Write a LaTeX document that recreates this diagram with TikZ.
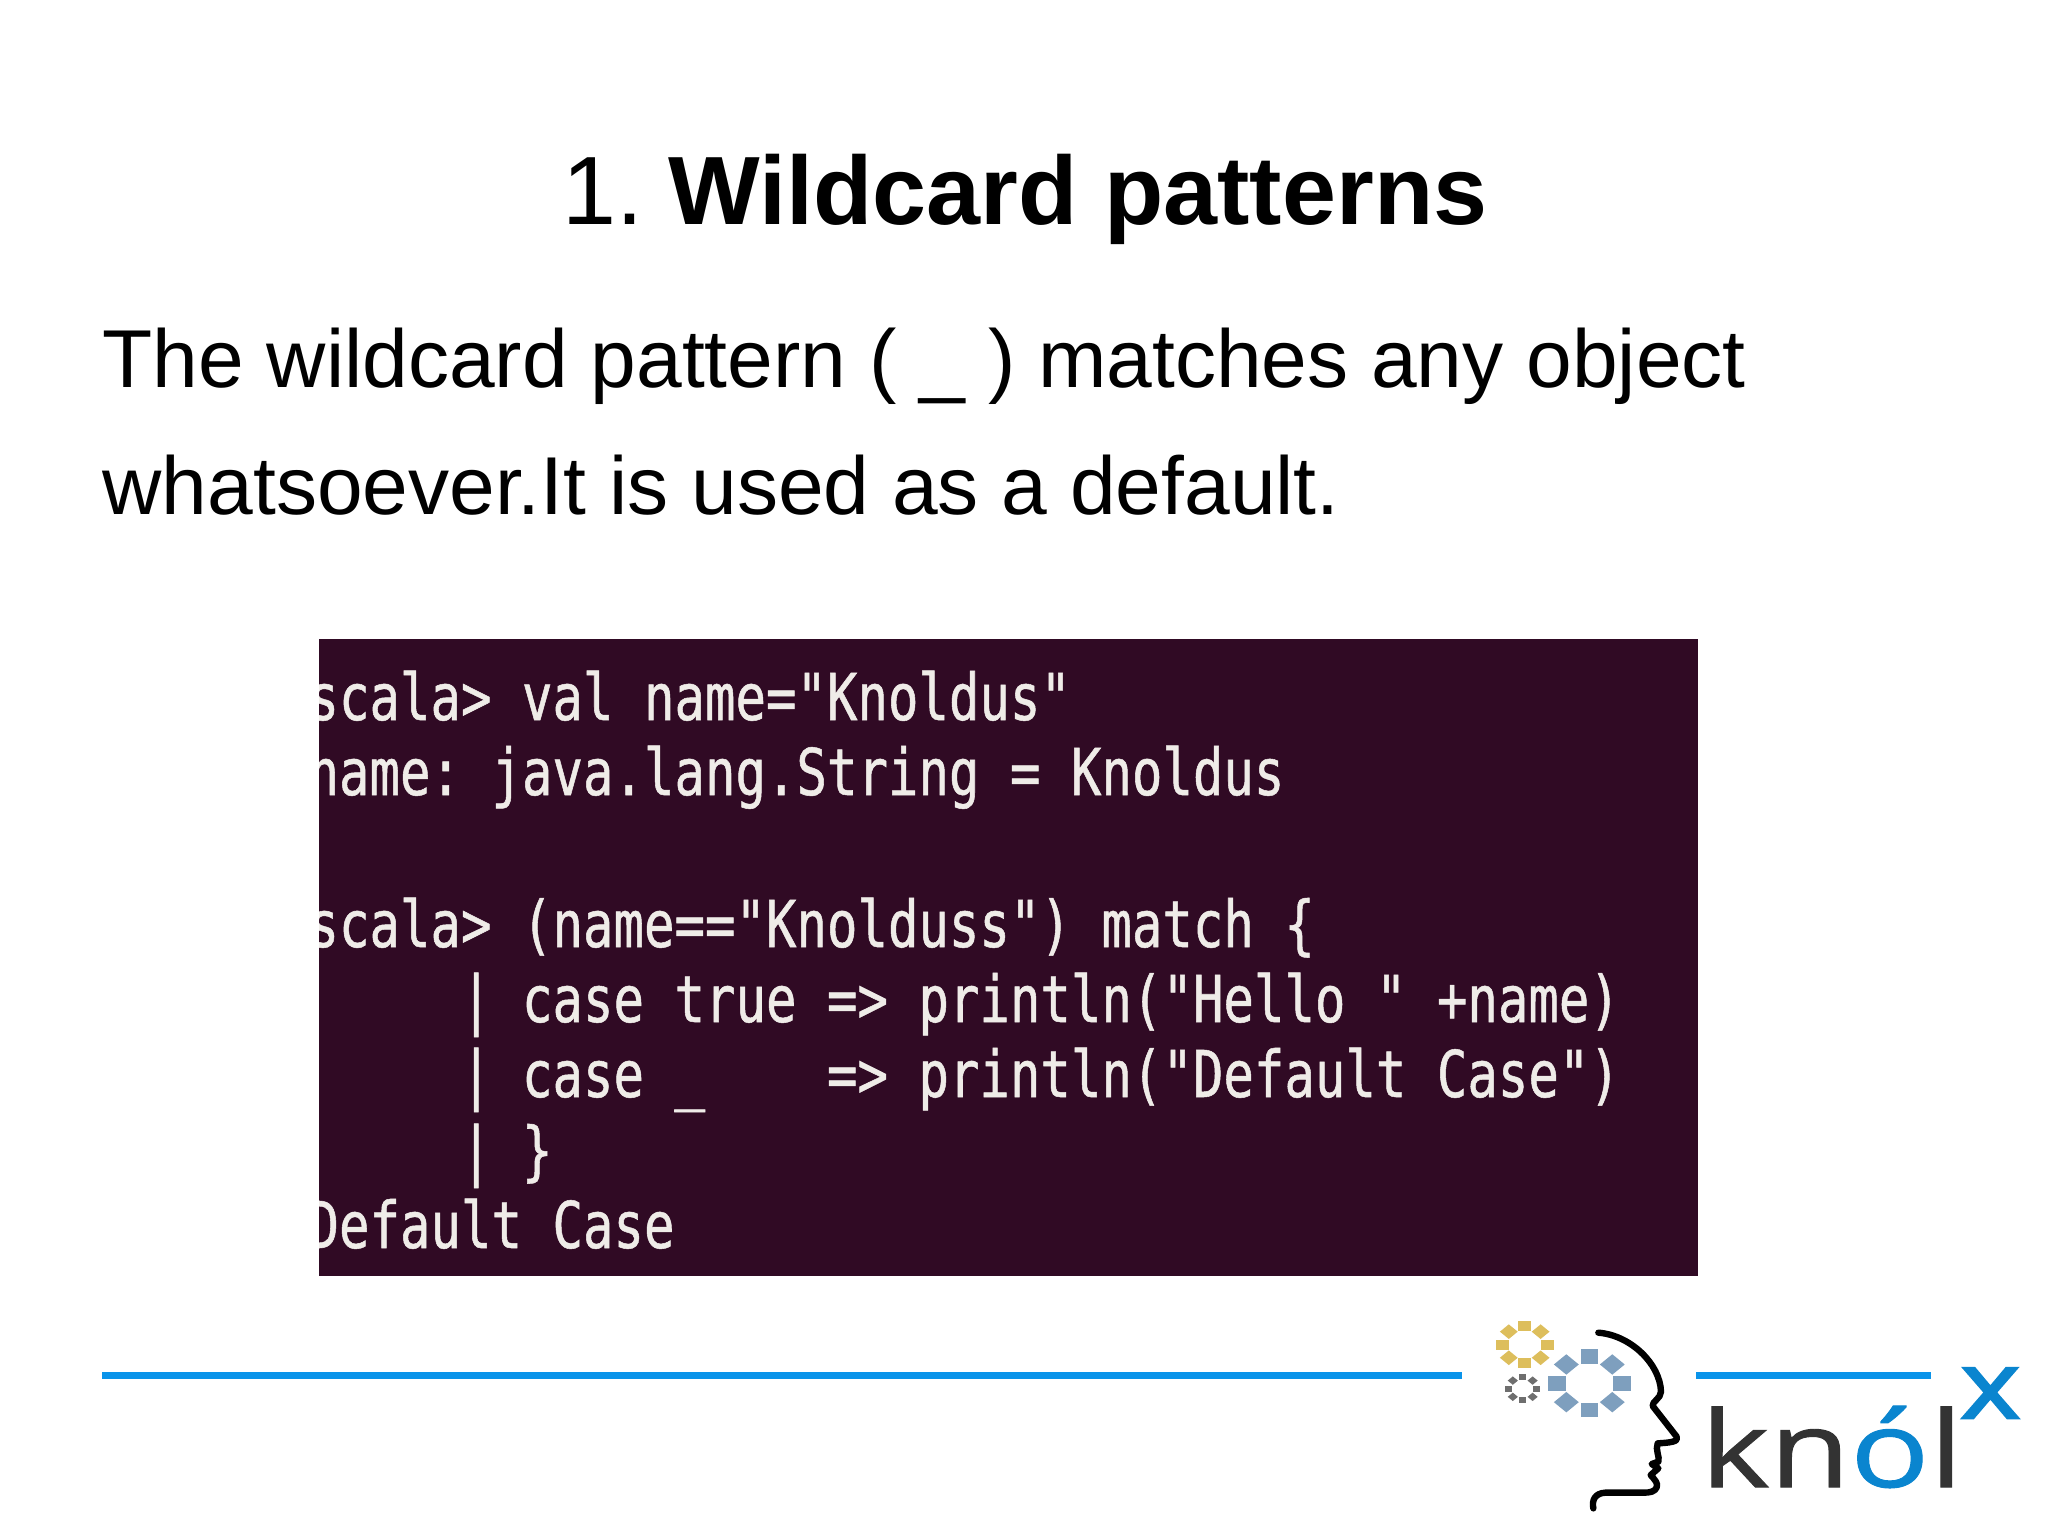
\documentclass[tikz,border=0pt]{standalone}
\usepackage{fontspec}
\setmainfont{Liberation Sans}
\newfontfamily\termfont[FakeStretch=0.785,FakeBold=0.8]{DejaVu Sans Mono}
\newfontfamily\logofont[FakeStretch=1.24,FakeBold=0.9]{Open Sans}
\newfontfamily\logoxfont[FakeStretch=1.22,FakeBold=2.8]{Open Sans}
\definecolor{termbg}{HTML}{300A24}
\definecolor{termfg}{HTML}{EFECE8}
\definecolor{rulecol}{HTML}{0A94EA}
\definecolor{logoblue}{HTML}{0A85CF}
\definecolor{logodark}{HTML}{333333}
\definecolor{gold}{HTML}{DDBE5C}
\definecolor{steel}{HTML}{7E9FBE}
\definecolor{gearg}{HTML}{6E6E6E}
\tikzset{
  titletext/.style={anchor=base west,inner sep=0pt,font=\fontsize{36.4}{44}\selectfont,text=black},
  bodytext/.style={anchor=base west,inner sep=0pt,font=\fontsize{30.8}{38}\selectfont,text=black},
  termline/.style={anchor=base west,inner sep=0pt,font=\termfont\fontsize{24.2}{28}\selectfont,text=termfg},
  rule/.style={rulecol,line width=2.8pt},
  headline/.style={black,line width=2.4pt,line cap=round,line join=round},
}
\newcommand{\gearring}[5]{%
  \begin{scope}[shift={(#1,#2)},yscale=0.82]
  \foreach \a in {0,45,...,315}{
    \fill[#5,rotate=\a] (#3-#4,-#4) rectangle (#3+#4,#4);
  }
  \end{scope}}
\begin{document}
\begin{tikzpicture}[x=0.375pt,y=-0.375pt]
\useasboundingbox (0,0) rectangle (2048,1536);
\fill[white] (0,0) rectangle (2048,1536);
\node[titletext] (title) at (562,224) {1.\ \hspace{-0.8pt}\textbf{Wildcard patterns}};
\node[bodytext] (bodya) at (102,387) {The wildcard pattern ( \_ ) matches any object};
\node[bodytext] (bodyb) at (102,514) {whatsoever.It is used as a default.};
\fill[termbg] (319,639) rectangle (1698,1276);
\begin{scope}
\clip (319,639) rectangle (1698,1276);
\node[termline] (l1) at (308,720) {scala>~val~name="Knoldus"};
\node[termline] (l2) at (308,795) {name:~java.lang.String~=~Knoldus};
\node[termline] (l4) at (308,947) {scala>~(name=="Knolduss")~match~\{};
\node[termline] (l5) at (308,1022) {~~~~~|~case~true~=>~println("Hello~"~+name)};
\node[termline] (l6) at (308,1097) {~~~~~|~case~\_~~~~=>~println("Default~Case")};
\node[termline] (l7) at (308,1173) {~~~~~|~\}};
\node[termline] (l8) at (308,1248) {Default~Case};
\end{scope}
\draw[rule] (102,1375.5) -- (1462,1375.5);
\draw[rule] (1696,1375.5) -- (1930.5,1375.5);
\gearring{1524.7}{1344.7}{22.5}{6.3}{gold}
\gearring{1589.3}{1383.3}{32.5}{8.8}{steel}
\gearring{1522.7}{1388.7}{14}{3.6}{gearg}
\begin{scope}[shift={(1480,1310)},x=0.125pt,y=-0.125pt]
\draw[headline] (355,68) .. controls (450,75) and (540,160) .. (543,245)
  .. controls (543,265) and (515,275) .. (518,288)
  -- (590,380) .. controls (598,395) and (570,398) .. (533,400)
  .. controls (525,420) and (540,440) .. (535,455)
  -- (515,462) -- (535,475) -- (512,495)
  .. controls (525,510) and (535,520) .. (530,532)
  .. controls (525,545) and (510,548) .. (490,548)
  -- (375,548) .. controls (345,550) and (335,570) .. (340,595);
\end{scope}
\node[anchor=base west,inner sep=0pt,font=\logofont\fontsize{39.75}{44}\selectfont,text=logodark] (knol) at (1700,1487) {kn\textcolor{logoblue}{ó}l};
\node[anchor=base west,inner sep=0pt,font=\logoxfont\fontsize{35}{40}\selectfont,text=logoblue] (logox) at (1960,1418) {x};
\end{tikzpicture}
\end{document}
